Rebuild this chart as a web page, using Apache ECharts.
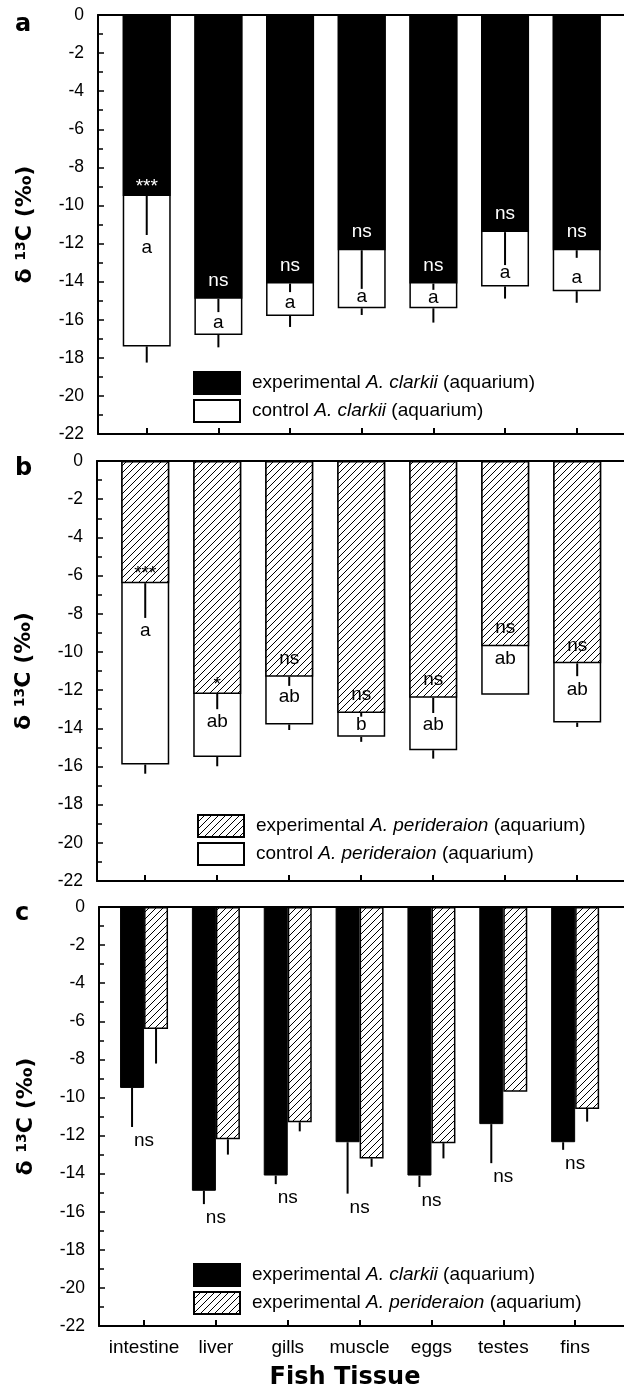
<!DOCTYPE html>
<html>
<head>
<meta charset="utf-8">
<script src="https://cdn.jsdelivr.net/npm/echarts@6/dist/echarts.min.js"></script>
<style>
html,body{margin:0;padding:0;background:#fff;}
#chart{width:624px;height:1389px;}
</style>
</head>
<body>
<div id="chart"></div>
<script>
// ---------------- data ----------------
const categories = ['intestine', 'liver', 'gills', 'muscle', 'eggs', 'testes', 'fins'];
const yTicks = [0, -2, -4, -6, -8, -10, -12, -14, -16, -18, -20, -22];

// A. clarkii (aquarium)
const clarkiiExp     = [-9.5, -14.9, -14.1, -12.35, -14.1, -11.4, -12.35];
const clarkiiExpErr  = [2.05, 0.7, 0.45, 2.7, 0.6, 2.05, 0.4];
const clarkiiCtrl    = [-17.4, -16.8, -15.8, -15.4, -15.4, -14.25, -14.5];
const clarkiiCtrlErr = [0.85, 0.65, 0.58, 0.35, 0.75, 0.64, 0.61];

// A. perideraion (aquarium)
const periExp     = [-6.4, -12.2, -11.3, -13.2, -12.4, -9.7, -10.6];
const periExpErr  = [1.82, 0.8, 0.48, 0.44, 0.8, 0, 0.67];
const periCtrl    = [-15.9, -15.5, -13.8, -14.45, -15.15, -12.25, -13.7];
const periCtrlErr = [0.48, 0.49, 0.29, 0.26, 0.44, 0, 0.23];

// annotations
const sigA = ['***', 'ns', 'ns', 'ns', 'ns', 'ns', 'ns'];
const lettersA = ['a', 'a', 'a', 'a', 'a', 'a', 'a'];
const letterPosA = [-12.2, -16.15, -15.1, -14.8, -14.85, -13.55, -13.8];
const sigB = ['***', '*', 'ns', 'ns', 'ns', 'ns', 'ns'];
const lettersB = ['a', 'ab', 'ab', 'b', 'ab', 'ab', 'ab'];
const letterPosB = [-8.87, -13.67, -12.36, -13.81, -13.81, -10.35, -11.97];
const sigC = ['ns', 'ns', 'ns', 'ns', 'ns', 'ns', 'ns'];

// ---------------- styles ----------------
const FONT = 'Liberation Sans';
const BFONT = 'DejaVu Sans';
const xs = categories.map((c, i) => i + 1);

const hatchCanvas = (function () {
  const c = document.createElement('canvas');
  c.width = 7; c.height = 7;
  const g = c.getContext('2d');
  g.fillStyle = '#fff'; g.fillRect(0, 0, 7, 7);
  g.strokeStyle = '#000'; g.lineWidth = 1;
  g.beginPath();
  g.moveTo(0, 7); g.lineTo(7, 0);
  g.moveTo(-1, 1); g.lineTo(1, -1);
  g.moveTo(6, 8); g.lineTo(8, 6);
  g.stroke();
  return c;
})();
const hatchFill = { image: hatchCanvas, repeat: 'repeat' };

const panels = [
  { left: 98, top: 15, height: 419, min: 0.32, max: 7.66 },
  { left: 97, top: 461, height: 420, min: 0.33, max: 7.65 },
  { left: 99, top: 907, height: 419, min: 0.373, max: 7.68 }
];

const grids = [], xAxes = [], yAxes = [], series = [];
panels.forEach((p, i) => {
  grids.push({ left: p.left, top: p.top, height: p.height, width: 624 - p.left, containLabel: false });
  xAxes.push({
    gridIndex: i, type: 'value', min: p.min, max: p.max,
    axisLine: { show: true, onZero: false, lineStyle: { color: '#000', width: 2 } },
    axisTick: { show: true, inside: true, length: 6, customValues: xs, lineStyle: { color: '#000', width: 2 } },
    axisLabel: {
      show: i === 2, customValues: xs, margin: 12,
      formatter: v => categories[Math.round(v) - 1] || '',
      fontFamily: FONT, fontSize: 19, color: '#000'
    },
    splitLine: { show: false }
  });
  xAxes.push({
    gridIndex: i, type: 'value', position: 'top', min: p.min, max: p.max,
    axisLine: { show: true, onZero: false, lineStyle: { color: '#000', width: 2 } },
    axisTick: { show: false }, axisLabel: { show: false }, splitLine: { show: false }
  });
  yAxes.push({
    gridIndex: i, type: 'value', min: -22, max: 0, interval: 2,
    axisLine: { show: true, onZero: false, lineStyle: { color: '#000', width: 2 } },
    axisTick: { show: true, inside: true, length: 6, lineStyle: { color: '#000', width: 1.5 } },
    minorTick: { show: true, splitNumber: 2, length: 5, lineStyle: { color: '#000', width: 1.5 } },
    axisLabel: { margin: 14, fontFamily: FONT, fontSize: 17.5, color: '#000', formatter: v => String(v) },
    splitLine: { show: false },
    name: '{d|δ }{s|13}{d|C (‰)}',
    nameLocation: 'middle', nameRotate: 90, nameGap: 62,
    nameTextStyle: {
      rich: {
        d: { fontFamily: BFONT, fontWeight: 'bold', fontSize: 22, color: '#000' },
        s: { fontFamily: BFONT, fontWeight: 'bold', fontSize: 14, color: '#000', verticalAlign: 'top', lineHeight: 16 }
      }
    }
  });
});

function bars(name, gi, vals, fill, width, gap, z, border) {
  return {
    type: 'bar', name, xAxisIndex: gi * 2, yAxisIndex: gi,
    data: vals.map((v, k) => [xs[k], v]),
    barWidth: width, barGap: gap, z,
    itemStyle: { color: fill, borderColor: '#000', borderWidth: border },
    emphasis: { disabled: true }, animation: false
  };
}

function errs(gi, vals, es, dx, z) {
  return {
    type: 'custom', xAxisIndex: gi * 2, yAxisIndex: gi, z, animation: false, silent: true,
    data: vals.map((v, k) => [xs[k], v, v - es[k]]),
    encode: { x: 0, y: [1, 2] },
    renderItem: (params, api) => {
      if (api.value(1) === api.value(2)) return null;
      const a = api.coord([api.value(0), api.value(1)]);
      const b = api.coord([api.value(0), api.value(2)]);
      return { type: 'line', shape: { x1: a[0] + dx, y1: a[1], x2: b[0] + dx, y2: b[1] },
               style: { stroke: '#000', lineWidth: 2 } };
    }
  };
}

function texts(gi, ys, labels, dyFn, color, bg, z) {
  return {
    type: 'custom', xAxisIndex: gi * 2, yAxisIndex: gi, z, animation: false, silent: true,
    data: ys.map((v, k) => [xs[k], v]),
    encode: { x: 0, y: 1 },
    renderItem: (params, api) => {
      const t = labels[params.dataIndex];
      const p = api.coord([api.value(0), api.value(1)]);
      return {
        type: 'text', x: p[0], y: p[1] + dyFn(t),
        style: {
          text: t, fill: color, fontFamily: FONT, fontSize: 19,
          align: 'center', verticalAlign: 'middle', lineHeight: 16,
          backgroundColor: bg || null
        }
      };
    }
  };
}
const above = t => (t.charAt(0) === '*' ? -9 : -18);

// Panel a
series.push(bars('ctrlA', 0, clarkiiCtrl, '#fff', 48, '-100%', 2, 1.5));
series.push(bars('expA', 0, clarkiiExp, '#000', 48, '-100%', 3, 1.5));
series.push(errs(0, clarkiiCtrl, clarkiiCtrlErr, 0, 4));
series.push(errs(0, clarkiiExp, clarkiiExpErr, 0, 4));
series.push(texts(0, clarkiiExp, sigA, above, '#fff', null, 5));
series.push(texts(0, letterPosA, lettersA, () => 0, '#000', '#fff', 5));

// Panel b
series.push(bars('ctrlB', 1, periCtrl, '#fff', 48, '-100%', 2, 1.5));
series.push(bars('expB', 1, periExp, hatchFill, 48, '-100%', 3, 1.5));
series.push(errs(1, periCtrl, periCtrlErr, 0, 4));
series.push(errs(1, periExp, periExpErr, 0, 4));
series.push(texts(1, periExp, sigB, above, '#000', null, 5));
series.push(texts(1, letterPosB, lettersB, () => 0, '#000', '#fff', 5));

// Panel c
series.push(bars('clarkC', 2, clarkiiExp, '#000', 24, 0, 3, 1));
series.push(bars('periC', 2, periExp, hatchFill, 24, 0, 3, 1.5));
series.push(errs(2, clarkiiExp, clarkiiExpErr, -12, 4));
series.push(errs(2, periExp, periExpErr, 12, 4));
series.push(texts(2, clarkiiExp.map((v, k) => v - clarkiiExpErr[k]), sigC, () => 14, '#000', null, 5));

// legends
const legendText = {
  ctrlA: '{p| }{n|control }{i|A. clarkii}{n| (aquarium)}',
  expA: '{p| }{n|experimental }{i|A. clarkii}{n| (aquarium)}',
  ctrlB: '{p| }{n|control }{i|A. perideraion}{n| (aquarium)}',
  expB: '{p| }{n|experimental }{i|A. perideraion}{n| (aquarium)}',
  clarkC: '{p| }{n|experimental }{i|A. clarkii}{n| (aquarium)}',
  periC: '{p| }{n|experimental }{i|A. perideraion}{n| (aquarium)}'
};
function legend(left, top, names) {
  return {
    left, top, padding: 0, orient: 'vertical', itemWidth: 46, itemHeight: 22, itemGap: 4,
    selectedMode: false, icon: 'rect', data: names,
    formatter: n => legendText[n],
    textStyle: {
      color: '#000',
      rich: {
        p: { width: 7, fontSize: 19, fontFamily: FONT },
        n: { fontSize: 19, fontFamily: FONT, color: '#000' },
        i: { fontSize: 19, fontFamily: FONT, fontStyle: 'italic', color: '#000' }
      }
    }
  };
}

const option = {
  backgroundColor: '#fff',
  animation: false,
  grid: grids, xAxis: xAxes, yAxis: yAxes, series,
  legend: [
    legend(193, 371, ['expA', 'ctrlA']),
    legend(197, 814, ['expB', 'ctrlB']),
    legend(193, 1263, ['clarkC', 'periC'])
  ],
  graphic: [
    { type: 'text', x: 15, y: 25, style: { text: 'a', fontFamily: BFONT, fontWeight: 'bold', fontSize: 24, fill: '#000', verticalAlign: 'middle' } },
    { type: 'text', x: 15, y: 469, style: { text: 'b', fontFamily: BFONT, fontWeight: 'bold', fontSize: 24, fill: '#000', verticalAlign: 'middle' } },
    { type: 'text', x: 15, y: 914, style: { text: 'c', fontFamily: BFONT, fontWeight: 'bold', fontSize: 24, fill: '#000', verticalAlign: 'middle' } },
    { type: 'text', x: 345, y: 1378, style: { text: 'Fish Tissue', fontFamily: BFONT, fontWeight: 'bold', fontSize: 24, fill: '#000', align: 'center', verticalAlign: 'middle' } }
  ]
};

const chart = echarts.init(document.getElementById('chart'), null, { renderer: 'canvas' });
chart.setOption(option);
</script>
</body>
</html>
